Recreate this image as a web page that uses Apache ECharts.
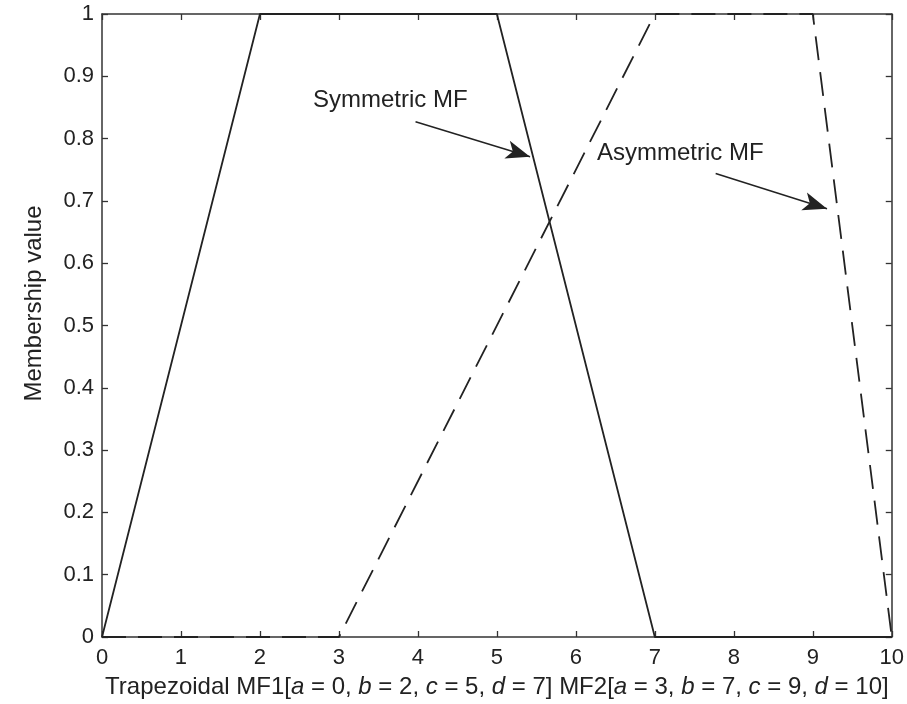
<!DOCTYPE html>
<html>
<head>
<meta charset="utf-8">
<script src="https://cdn.jsdelivr.net/npm/echarts@6/dist/echarts.min.js"></script>
<style>
  html, body { margin: 0; padding: 0; background: #fff; }
  #chart { width: 907px; height: 704px; }
</style>
</head>
<body>
<div id="chart"></div>
<script>
// trapezoid corner points [x, membership]
var mf1 = [[0, 0], [2, 1], [5, 1], [7, 0], [10, 0]];
var mf2 = [[0, 0], [3, 0], [7, 1], [9, 1], [10, 0]];
var xTicks = [0, 1, 2, 3, 4, 5, 6, 7, 8, 9, 10];
var yTicks = [0, 0.1, 0.2, 0.3, 0.4, 0.5, 0.6, 0.7, 0.8, 0.9, 1];

var chartDom = document.getElementById("chart");
var myChart = echarts.init(chartDom);

var ink = "#222";
var fontFam = "Liberation Sans, Arial, sans-serif";

var axisBase = {
  min: 0,
  axisLine: { show: true, onZero: false, lineStyle: { color: "#333", width: 1.5 } },
  axisTick: { show: true, inside: true, length: 6, lineStyle: { color: "#333", width: 1.3 } },
  splitLine: { show: false }
};

var option = {
  animation: false,
  backgroundColor: "#fff",
  grid: { left: 102, right: 12, top: 14, bottom: 66 },
  xAxis: [
    Object.assign({}, axisBase, {
      type: "value", position: "bottom", max: 10, interval: 1,
      axisLabel: { color: ink, fontSize: 22, fontFamily: fontFam, margin: 10 },
      name: "{t|Trapezoidal MF1[}{i|a}{t| = 0, }{i|b}{t| = 2, }{i|c}{t| = 5, }{i|d}{t| = 7] MF2[}{i|a}{t| = 3, }{i|b}{t| = 7, }{i|c}{t| = 9, }{i|d}{t| = 10]}",
      nameLocation: "middle",
      nameGap: 38,
      nameTextStyle: {
        rich: {
          t: { color: ink, fontSize: 24, fontFamily: fontFam },
          i: { color: ink, fontSize: 24, fontFamily: fontFam, fontStyle: "italic" }
        }
      }
    }),
    Object.assign({}, axisBase, {
      type: "value", position: "top", max: 10, interval: 1,
      axisLabel: { show: false }
    })
  ],
  yAxis: [
    Object.assign({}, axisBase, {
      type: "value", position: "left", max: 1, interval: 0.1,
      axisLabel: { color: ink, fontSize: 22, fontFamily: fontFam, margin: 8 },
      name: "Membership value",
      nameLocation: "middle",
      nameGap: 56,
      nameTextStyle: { color: ink, fontSize: 24, fontFamily: fontFam, padding: [0, 0, 0, 44] }
    }),
    Object.assign({}, axisBase, {
      type: "value", position: "right", max: 1, interval: 0.1,
      axisLabel: { show: false }
    })
  ],
  series: [
    {
      name: "MF1",
      type: "line",
      data: mf1,
      symbol: "none",
      lineStyle: { color: ink, width: 1.8 },
      markLine: {
        silent: true,
        symbol: ["none", "arrow"],
        symbolSize: [14, 24],
        lineStyle: { color: ink, width: 1.5, type: "solid" },
        label: { show: false },
        data: [
          [{ coord: [3.97, 0.827] }, { coord: [5.42, 0.771] }],
          [{ coord: [7.77, 0.744] }, { coord: [9.18, 0.6875] }]
        ]
      }
    },
    {
      name: "MF2",
      type: "line",
      data: mf2,
      symbol: "none",
      lineStyle: { color: ink, width: 1.8, type: [24, 12] }
    }
  ],
  graphic: [
    {
      type: "text", left: 313, top: 88,
      style: { text: "Symmetric MF", fill: ink, fontSize: 24, fontFamily: fontFam }
    },
    {
      type: "text", left: 597, top: 141,
      style: { text: "Asymmetric MF", fill: ink, fontSize: 24, fontFamily: fontFam }
    }
  ]
};

option && myChart.setOption(option);
</script>
</body>
</html>
